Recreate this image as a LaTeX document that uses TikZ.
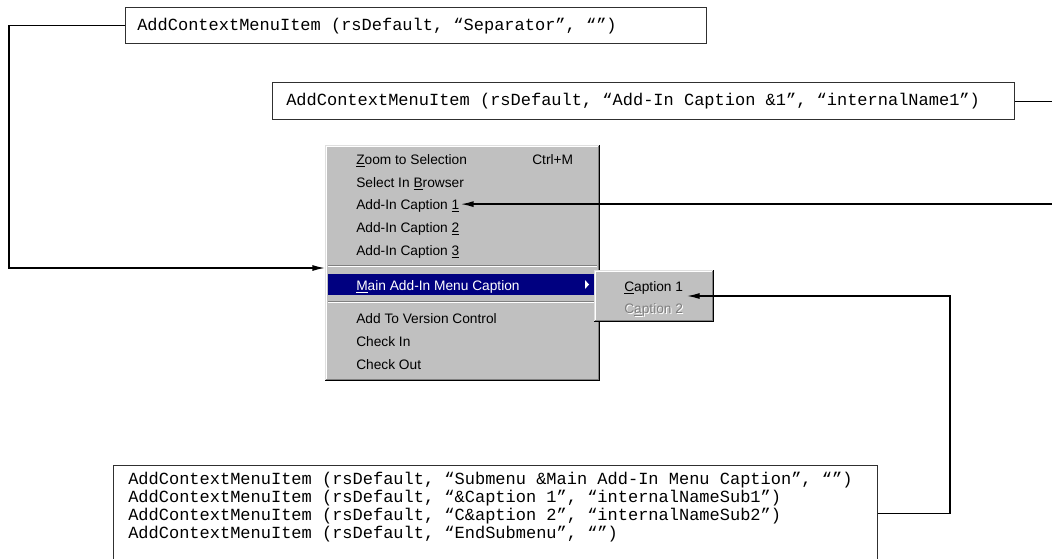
\documentclass[tikz,border=0pt]{standalone}
\usepackage{fontspec}
\setmainfont{Liberation Sans}
\setmonofont{Liberation Mono}
\usetikzlibrary{arrows.meta}

\definecolor{menugray}{HTML}{C0C0C0}
\definecolor{menushade}{HTML}{808080}
\definecolor{menulight}{HTML}{DFDFDF}
\definecolor{navysel}{HTML}{000080}
\definecolor{boxline}{HTML}{303030}

% Win95-style raised panel between two corners (pixel units)
\newcommand\bevelpanel[4]{%
  \fill[menugray] (#1,#2) rectangle (#3,#4);
  \draw[menulight,line width=0.75pt] (#1+0.5,#4-1) -- (#1+0.5,#2+0.5) -- (#3-1,#2+0.5);
  \draw[white,line width=0.75pt] (#1+1.5,#4-2) -- (#1+1.5,#2+1.5) -- (#3-2,#2+1.5);
  \draw[black,line width=0.75pt] (#1,#4-0.5) -- (#3-0.5,#4-0.5) -- (#3-0.5,#2);
  \draw[menushade,line width=0.75pt] (#1+1,#4-1.5) -- (#3-1.5,#4-1.5) -- (#3-1.5,#2+1);
}
% etched separator line inside a menu
\newcommand\menusep[3]{%
  \draw[menushade,line width=0.75pt] (#1,#3-0.5) -- (#2,#3-0.5);
  \draw[white,line width=0.75pt] (#1,#3+0.5) -- (#2,#3+0.5);
}

\begin{document}
\begin{tikzpicture}[x=0.75pt,y=-0.75pt,
  codebox/.style={draw=boxline, line width=1pt, anchor=north west, inner sep=0pt},
  codeline/.style={anchor=base west, inner sep=0pt, font=\fontsize{12.75}{13.5}\selectfont\ttfamily},
  item/.style={anchor=base west, inner sep=0pt, font=\fontsize{10.3}{12}\selectfont},
  link/.style={line width=1pt, black},
  pointer/.style={link, -{Latex[length=9.5pt,width=4.5pt]}}]

\useasboundingbox (0,0) rectangle (1052,558);

% ---- code boxes ----
\node[codebox, minimum width=435.75pt, minimum height=27pt] (sepbox) at (125,7) {};
\node[codeline] (septext) at (137,30) {AddContextMenuItem (rsDefault, “Separator”, “”)};

\node[codebox, minimum width=556.5pt, minimum height=27.75pt] (capbox) at (272,82) {};
\node[codeline] (captext) at (286,105) {AddContextMenuItem (rsDefault, “Add-In Caption \&1”, “internalName1”)};

\node[codebox, minimum width=573pt, minimum height=75pt] (subbox) at (113,465) {};
\node[codeline] (sub1) at (128,484) {AddContextMenuItem (rsDefault, “Submenu \&Main Add-In Menu Caption”, “”)};
\node[codeline] (sub2) at (128,502) {AddContextMenuItem (rsDefault, “\&Caption 1”, “internalNameSub1”)};
\node[codeline] (sub3) at (128,520) {AddContextMenuItem (rsDefault, “C\&aption 2”, “internalNameSub2”)};
\node[codeline] (sub4) at (128,538) {AddContextMenuItem (rsDefault, “EndSubmenu”, “”)};

% ---- context menu ----
\bevelpanel{325}{145}{600}{381}
\node[item] (zoom) at (356,164) {\underline{Z}oom to Selection};
\node[item] (ctrl) at (532,164) {Ctrl+M};
\node[item] (browse) at (356,187) {Select In \underline{B}rowser};
\node[item] (cap1) at (356,209) {Add-In Caption \underline{1}};
\node[item] (cap2) at (356,232) {Add-In Caption \underline{2}};
\node[item] (cap3) at (356,255) {Add-In Caption \underline{3}};
\menusep{328}{597}{266}
\fill[navysel] (328,274) rectangle (597,295);
\node[item, text=white] (main) at (356,290) {\underline{M}ain Add-In Menu Caption};
\fill[white] (585,280) -- (589,284.5) -- (585,289) -- cycle;
\menusep{328}{597}{302}
\node[item] (version) at (356,323) {Add To Version Control};
\node[item] (checkin) at (356,346) {Check In};
\node[item] (checkout) at (356,369) {Check Out};

% ---- submenu ----
\bevelpanel{594}{270}{714}{322}
\node[item] (scap1) at (624,291) {\underline{C}aption 1};
\node[item, text=white] (scap2shade) at (625,314) {C\underline{a}ption 2};
\node[item, text=menushade] (scap2) at (624,313) {C\underline{a}ption 2};

% ---- connector anchors ----
\coordinate (leftrail) at (9,0);
\coordinate (rightrail) at (1056,0);
\coordinate (subrail) at (950,0);
\coordinate (sepIn) at (325,268);
\coordinate (subIn) at (687,296);

% ---- connectors ----
\draw[pointer] (sepbox.west) -- (sepbox.west -| leftrail) |- (sepIn);
\draw[pointer] (capbox.east) -- (capbox.east -| rightrail) |- ([xshift=1pt,yshift=1pt]cap1.east);
\draw[pointer] ([yshift=1.5pt]subbox.east) -- ([yshift=1.5pt]subbox.east -| subrail) |- (subIn);
\end{tikzpicture}
\end{document}
